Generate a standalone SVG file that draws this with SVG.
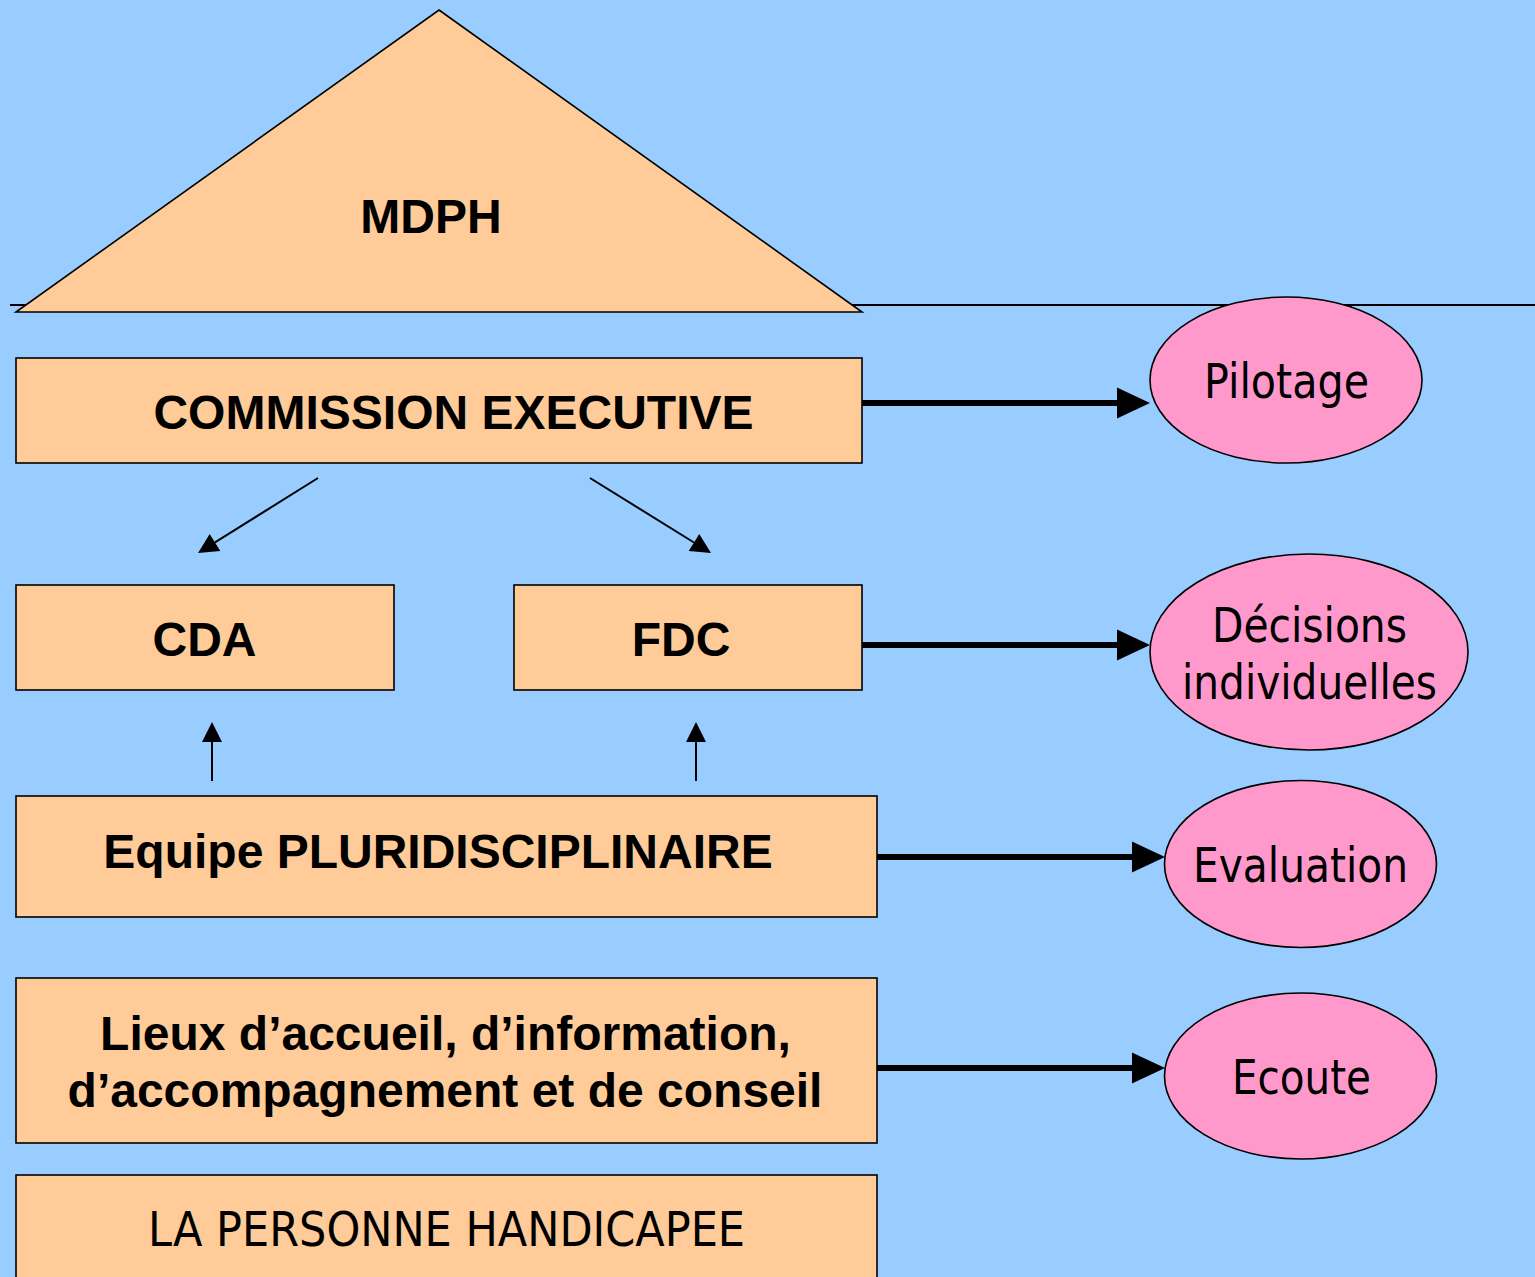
<svg xmlns="http://www.w3.org/2000/svg" width="1535" height="1277" viewBox="0 0 1535 1277">
<style>
.box{fill:#FFCC99;stroke:#000;stroke-width:1.6}
.oval{fill:#FF99CC;stroke:#000;stroke-width:1.6}
.b{font-family:"Liberation Sans",Arial,sans-serif;font-weight:bold;font-size:48px;fill:#000;text-anchor:middle}
.t{font-family:"DejaVu Sans","Noto Sans",sans-serif;font-size:48px;fill:#000}
.thick{stroke:#000;stroke-width:6;fill:none}
.thin{stroke:#000;stroke-width:2;fill:none}
</style>
<defs>
<marker id="bigHead" markerUnits="userSpaceOnUse" markerWidth="34" markerHeight="32" refX="0" refY="15.5" orient="auto" overflow="visible">
<path d="M0,0 L33,15.5 L0,31 z" fill="#000"/>
</marker>
<marker id="smallHead" markerUnits="userSpaceOnUse" markerWidth="21" markerHeight="21" refX="0" refY="10" orient="auto" overflow="visible">
<path d="M0,0 L20,10 L0,20 z" fill="#000"/>
</marker>
</defs>
<rect x="0" y="0" width="1535" height="1277" fill="#99CCFF"/>
<line x1="10" y1="305" x2="1535" y2="305" stroke="#000" stroke-width="2"/>
<g id="mdph">
<polygon class="box" points="439,10 862,312 16,312"/>
<text class="b" x="431" y="233">MDPH</text>
</g>
<g id="commission">
<rect class="box" x="16" y="358" width="846" height="105"/>
<text class="b" x="453.5" y="429">COMMISSION EXECUTIVE</text>
</g>
<g id="cda">
<rect class="box" x="16" y="585" width="378" height="105"/>
<text class="b" x="204.5" y="656">CDA</text>
</g>
<g id="fdc">
<rect class="box" x="514" y="585" width="348" height="105"/>
<text class="b" x="681" y="656">FDC</text>
</g>
<g id="equipe">
<rect class="box" x="16" y="796" width="861" height="121"/>
<text class="b" x="438" y="868">Equipe PLURIDISCIPLINAIRE</text>
</g>
<g id="lieux">
<rect class="box" x="16" y="978" width="861" height="165"/>
<text class="b" x="445.5" y="1050">Lieux d’accueil, d’information,</text>
<text class="b" x="445" y="1107">d’accompagnement et de conseil</text>
</g>
<g id="personne">
<rect class="box" x="16" y="1175" width="861" height="110"/>
<text class="t" x="148" y="1246" textLength="597" lengthAdjust="spacingAndGlyphs">LA PERSONNE HANDICAPEE</text>
</g>
<g id="pilotage">
<ellipse class="oval" cx="1286" cy="380" rx="136" ry="83"/>
<text class="t" x="1204" y="398" textLength="165" lengthAdjust="spacingAndGlyphs">Pilotage</text>
</g>
<g id="decisions">
<ellipse class="oval" cx="1309" cy="652" rx="159" ry="98"/>
<text class="t" x="1212" y="642" textLength="195" lengthAdjust="spacingAndGlyphs">Décisions</text>
<text class="t" x="1182" y="699" textLength="255" lengthAdjust="spacingAndGlyphs">individuelles</text>
</g>
<g id="evaluation">
<ellipse class="oval" cx="1300.5" cy="864" rx="136" ry="83.5"/>
<text class="t" x="1193" y="882" textLength="215" lengthAdjust="spacingAndGlyphs">Evaluation</text>
</g>
<g id="ecoute">
<ellipse class="oval" cx="1300.5" cy="1076" rx="136" ry="83"/>
<text class="t" x="1232" y="1094" textLength="139" lengthAdjust="spacingAndGlyphs">Ecoute</text>
</g>
<g id="connectors">
<line class="thick" x1="862" y1="403" x2="1117" y2="403" marker-end="url(#bigHead)"/>
<line class="thick" x1="862" y1="645" x2="1117" y2="645" marker-end="url(#bigHead)"/>
<line class="thick" x1="877" y1="857" x2="1132" y2="857" marker-end="url(#bigHead)"/>
<line class="thick" x1="877" y1="1068" x2="1132" y2="1068" marker-end="url(#bigHead)"/>
<line class="thin" x1="318" y1="478" x2="215" y2="542.4" marker-end="url(#smallHead)"/>
<line class="thin" x1="590" y1="478" x2="694" y2="542.5" marker-end="url(#smallHead)"/>
<line class="thin" x1="212" y1="781" x2="212" y2="742" marker-end="url(#smallHead)"/>
<line class="thin" x1="696" y1="781" x2="696" y2="742" marker-end="url(#smallHead)"/>
</g>
</svg>
